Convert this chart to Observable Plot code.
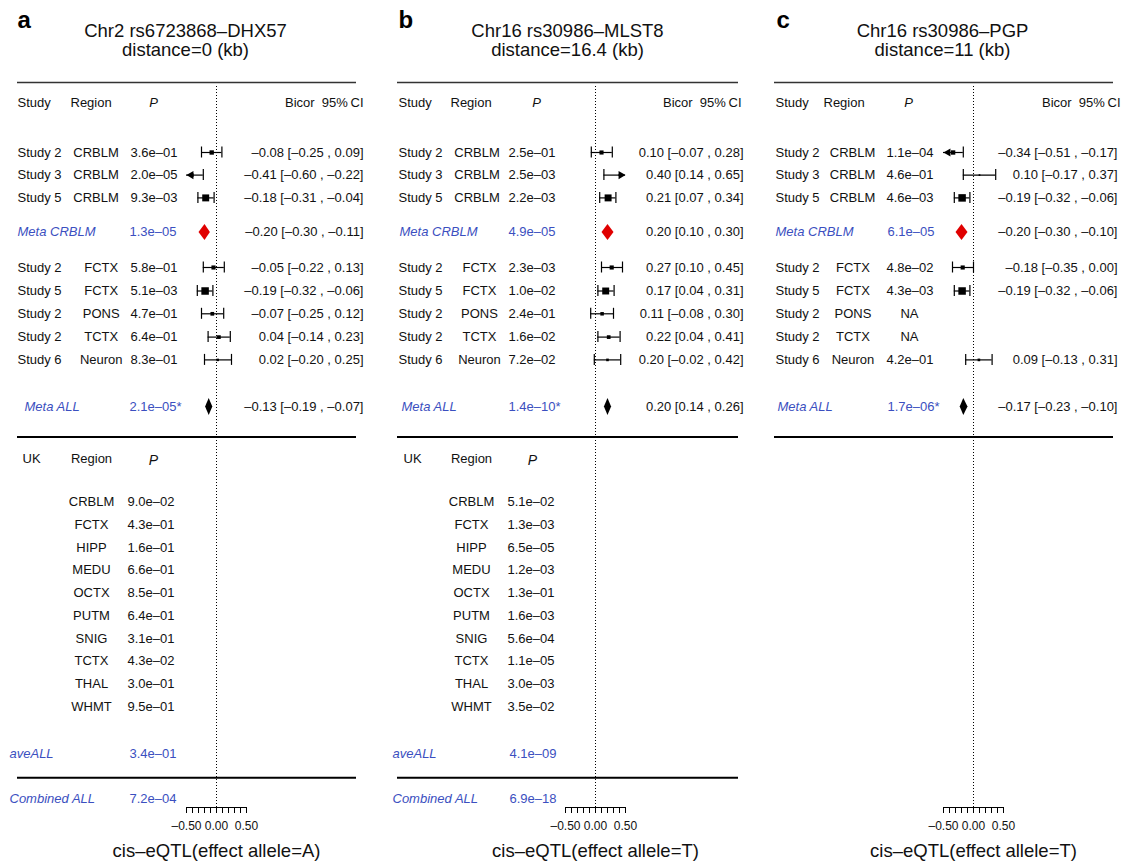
<!DOCTYPE html>
<html><head><meta charset="utf-8">
<script src="https://cdn.jsdelivr.net/npm/d3@7"></script>
<script src="https://cdn.jsdelivr.net/npm/@observablehq/plot@0.6"></script>
<style>
html,body{margin:0;padding:0;background:#fff}
body{width:1126px;height:862px;overflow:hidden;position:relative;font-family:"Liberation Sans",Arial,Helvetica,sans-serif}
.panel{position:absolute;top:0}
</style></head><body>
<div id="root"></div>
<script>
// ---------------- DATA ----------------
const panelLetters = ["a", "b", "c"];
const panelTitles = ["Chr2 rs6723868–DHX57", "Chr16 rs30986–MLST8", "Chr16 rs30986–PGP"];
const panelDistances = ["distance=0 (kb)", "distance=16.4 (kb)", "distance=11 (kb)"];
const effectAlleles = ["A", "T", "T"];

const studyNames = ["Study 2", "Study 3", "Study 5", "Study 2", "Study 5", "Study 2", "Study 2", "Study 6"];
const studyRegions = ["CRBLM", "CRBLM", "CRBLM", "FCTX", "FCTX", "PONS", "TCTX", "Neuron"];

const pA = ["3.6e–01", "2.0e–05", "9.3e–03", "5.8e–01", "5.1e–03", "4.7e–01", "6.4e–01", "8.3e–01"];
const estA = [-0.08, -0.41, -0.18, -0.05, -0.19, -0.07, 0.04, 0.02];
const loA = [-0.25, -0.60, -0.31, -0.22, -0.32, -0.25, -0.14, -0.20];
const hiA = [0.09, -0.22, -0.04, 0.13, -0.06, 0.12, 0.23, 0.25];

const pB = ["2.5e–01", "2.5e–03", "2.2e–03", "2.3e–03", "1.0e–02", "2.4e–01", "1.6e–02", "7.2e–02"];
const estB = [0.10, 0.40, 0.21, 0.27, 0.17, 0.11, 0.22, 0.20];
const loB = [-0.07, 0.14, 0.07, 0.10, 0.04, -0.08, 0.04, -0.02];
const hiB = [0.28, 0.65, 0.34, 0.45, 0.31, 0.30, 0.41, 0.42];

const pC = ["1.1e–04", "4.6e–01", "4.6e–03", "4.8e–02", "4.3e–03", "NA", "NA", "4.2e–01"];
const estC = [-0.34, 0.10, -0.19, -0.18, -0.19, null, null, 0.09];
const loC = [-0.51, -0.17, -0.32, -0.35, -0.32, null, null, -0.13];
const hiC = [-0.17, 0.37, -0.06, 0.00, -0.06, null, null, 0.31];

const metaCrblmP = ["1.3e–05", "4.9e–05", "6.1e–05"];
const metaCrblmEst = [-0.20, 0.20, -0.20];
const metaCrblmLo = [-0.30, 0.10, -0.30];
const metaCrblmHi = [-0.11, 0.30, -0.10];

const metaAllP = ["2.1e–05*", "1.4e–10*", "1.7e–06*"];
const metaAllEst = [-0.13, 0.20, -0.17];
const metaAllLo = [-0.19, 0.14, -0.23];
const metaAllHi = [-0.07, 0.26, -0.10];

const ukRegions = ["CRBLM", "FCTX", "HIPP", "MEDU", "OCTX", "PUTM", "SNIG", "TCTX", "THAL", "WHMT"];
const ukPA = ["9.0e–02", "4.3e–01", "1.6e–01", "6.6e–01", "8.5e–01", "6.4e–01", "3.1e–01", "4.3e–02", "3.0e–01", "9.5e–01"];
const ukPB = ["5.1e–02", "1.3e–03", "6.5e–05", "1.2e–03", "1.3e–01", "1.6e–03", "5.6e–04", "1.1e–05", "3.0e–03", "3.5e–02"];
const aveAllP = ["3.4e–01", "4.1e–09", null];
const combinedAllP = ["7.2e–04", "6.9e–18", null];

const axisTicks = [-0.5, -0.4, -0.3, -0.2, -0.1, 0, 0.1, 0.2, 0.3, 0.4, 0.5];
const axisLabelValues = [-0.5, 0, 0.5];
const axisLabels = ["–0.50", "0.00", "0.50"];

// ---------------- LAYOUT / STYLE ----------------
const FONT = '"Liberation Sans", Arial, Helvetica, sans-serif';
const BLUE = "#3b4fc0";
const RED = "#e00000";
const LY = {
  letterY: 20, title1Y: 31, title2Y: 50, topRuleY: 82, headerY: 102,
  studyY: [152, 174.6, 197.4, 267, 290.5, 313.3, 336.6, 359.4],
  metaCY: 231.5, metaAY: 406, midRuleY: 436.5, ukHeaderY: 458, ukHeaderPY: 460,
  ukY0: 501.6, ukStep: 22.72, aveY: 753.5, lowRuleY: 777.3, combY: 798.3,
  axisY: 807, tickLen: 6, tickLabY: 826, xlabY: 851, dotTop: 86
};
const panelLayout = [
  {left: 0, width: 379, mL: 17, mR: 23, letterX: 17, titleX: 185, hStudy: 17, hRegion: 70, hP: 153, hCI: 363,
   studyX: 17, regC: 95.5, reg: 100.7, pX: 130, naX: 152, ciX: 363, metaCX: 17, metaAX: 24, metaPX: 129,
   ukX: 22, ukHReg: 91, ukHP: 153, ukReg: 91, ukPX: 127, aveX: 9, aveP: 129, hasUK: true},
  {left: 379, width: 378, mL: 18, mR: 19, letterX: 19, titleX: 188, hStudy: 19, hRegion: 71, hP: 157, hCI: 362,
   studyX: 19, regC: 97.5, reg: 100, pX: 129, naX: 152, ciX: 364, metaCX: 20, metaAX: 22, metaPX: 129,
   ukX: 24, ukHReg: 92, ukHP: 153, ukReg: 92, ukPX: 128, aveX: 13, aveP: 130, hasUK: true},
  {left: 757, width: 369, mL: 17, mR: 13, letterX: 19, titleX: 185, hStudy: 18, hRegion: 66, hP: 151, hCI: 363,
   studyX: 18, regC: 95, reg: 95.5, pX: 129, naX: 152, ciX: 360, metaCX: 18, metaAX: 20, metaPX: 130,
   hasUK: false}
];

const pvals = [pA, pB, pC], ests = [estA, estB, estC], los = [loA, loB, loC], his = [hiA, hiB, hiC];
const ukPs = [ukPA, ukPB, null];

const fmt = v => (v < 0 ? "–" : "") + Math.abs(v).toFixed(2);
const ciText = d => `${fmt(d.est)} [${fmt(d.lo)} , ${fmt(d.hi)}]`;

function makePanel(i) {
  const lay = panelLayout[i];
  const T = (data, o) => Plot.text(data, {frameAnchor: "left", fontSize: 13, fill: "#111", ...o, dx: (o.px ?? 0) - lay.mL});

  const rows = studyNames.map((s, j) => ({
    study: s, region: studyRegions[j], p: pvals[i][j], est: ests[i][j], lo: los[i][j], hi: his[i][j],
    y: LY.studyY[j], crblm: studyRegions[j] === "CRBLM"
  }));
  const plotted = rows.filter(d => d.est != null);
  const metas = [
    {label: "Meta CRBLM", p: metaCrblmP[i], est: metaCrblmEst[i], lo: metaCrblmLo[i], hi: metaCrblmHi[i], y: LY.metaCY, color: RED, h: 8},
    {label: "Meta ALL", p: metaAllP[i], est: metaAllEst[i], lo: metaAllLo[i], hi: metaAllHi[i], y: LY.metaAY, color: "#000", h: 8.5}
  ];
  const caps = plotted.flatMap(d => [
    ...(d.lo >= -0.5 ? [{x: d.lo, y: d.y}] : []),
    ...(d.hi <= 0.5 ? [{x: d.hi, y: d.y}] : [])
  ]);
  const leftArrows = plotted.filter(d => d.lo < -0.5);
  const rightArrows = plotted.filter(d => d.hi > 0.5);
  const diamond = m => [
    {x: m.lo, y: m.y}, {x: m.est, y: m.y - m.h}, {x: m.hi, y: m.y}, {x: m.est, y: m.y + m.h}, {x: m.lo, y: m.y}
  ];

  const marks = [];
  // titles
  marks.push(T([panelLetters[i]], {text: d => d, y: () => LY.letterY, px: lay.letterX, textAnchor: "start", fontSize: 24, fontWeight: "bold", fill: "#000"}));
  marks.push(T([panelTitles[i]], {text: d => d, y: () => LY.title1Y, px: lay.titleX, textAnchor: "middle", fontSize: 18.5}));
  marks.push(T([panelDistances[i]], {text: d => d, y: () => LY.title2Y, px: lay.titleX, textAnchor: "middle", fontSize: 18.5}));

  // rules
  marks.push(Plot.ruleY([LY.topRuleY], {stroke: "#333", strokeWidth: 1.5}));
  marks.push(Plot.ruleY([LY.midRuleY], {stroke: "#000", strokeWidth: 2}));
  if (lay.hasUK) marks.push(Plot.ruleY([LY.lowRuleY], {stroke: "#000", strokeWidth: 2}));

  // dotted zero line
  marks.push(Plot.ruleX([0], {y1: LY.dotTop, y2: LY.axisY, stroke: "#000", strokeWidth: 1, strokeDasharray: "1,2"}));

  // header
  marks.push(T(["Study"], {text: d => d, y: () => LY.headerY, px: lay.hStudy, textAnchor: "start"}));
  marks.push(T(["Region"], {text: d => d, y: () => LY.headerY, px: lay.hRegion, textAnchor: "start"}));
  marks.push(T(["P"], {text: d => d, y: () => LY.headerY, px: lay.hP, textAnchor: "middle", fontStyle: "italic"}));
  marks.push(T(["Bicor\u00a0\u00a095%\u2009CI"], {text: d => d, y: () => LY.headerY, px: lay.hCI, textAnchor: "end"}));

  // study rows
  marks.push(T(rows, {text: "study", y: "y", px: lay.studyX, textAnchor: "start"}));
  marks.push(T(rows.filter(d => d.crblm), {text: "region", y: "y", px: lay.regC, textAnchor: "middle"}));
  marks.push(T(rows.filter(d => !d.crblm), {text: "region", y: "y", px: lay.reg, textAnchor: "middle"}));
  marks.push(T(rows.filter(d => d.p !== "NA"), {text: "p", y: "y", px: lay.pX, textAnchor: "start"}));
  marks.push(T(rows.filter(d => d.p === "NA"), {text: "p", y: "y", px: lay.naX, textAnchor: "middle"}));
  marks.push(T(plotted, {text: ciText, y: "y", px: lay.ciX, textAnchor: "end"}));

  // meta rows
  marks.push(T(metas.slice(0, 1), {text: "label", y: "y", px: lay.metaCX, textAnchor: "start", fill: BLUE, fontStyle: "italic"}));
  marks.push(T(metas.slice(1), {text: "label", y: "y", px: lay.metaAX, textAnchor: "start", fill: BLUE, fontStyle: "italic"}));
  marks.push(T(metas, {text: "p", y: "y", px: lay.metaPX, textAnchor: "start", fill: BLUE}));
  marks.push(T(metas, {text: ciText, y: "y", px: lay.ciX, textAnchor: "end"}));

  // forest marks
  marks.push(Plot.ruleY(plotted, {y: "y", x1: d => Math.max(d.lo, -0.5), x2: d => Math.min(d.hi, 0.5), stroke: "#000", strokeWidth: 1.2}));
  marks.push(Plot.ruleX(caps, {x: "x", y1: d => d.y - 5.5, y2: d => d.y + 5.5, stroke: "#000", strokeWidth: 1.2}));
  marks.push(Plot.dot(plotted, {x: "est", y: "y", symbol: "square", r: d => (0.507 / ((d.hi - d.lo) ** 2)) / Math.sqrt(Math.PI), fill: "#000", stroke: "none"}));
  marks.push(Plot.dot(leftArrows, {x: () => -0.5, y: "y", symbol: "triangle", r: 3, rotate: -90, dx: 4.6, fill: "#000", stroke: "none"}));
  marks.push(Plot.dot(rightArrows, {x: () => 0.5, y: "y", symbol: "triangle", r: 3, rotate: 90, dx: -4.6, fill: "#000", stroke: "none"}));
  for (const m of metas) {
    marks.push(Plot.line(diamond(m), {x: "x", y: "y", fill: m.color, stroke: "none", curve: "linear"}));
  }

  // UK section
  if (lay.hasUK) {
    const uk = ukRegions.map((r, j) => ({region: r, p: ukPs[i][j], y: LY.ukY0 + j * LY.ukStep}));
    marks.push(T(["UK"], {text: d => d, y: () => LY.ukHeaderY, px: lay.ukX, textAnchor: "start"}));
    marks.push(T(["Region"], {text: d => d, y: () => LY.ukHeaderY, px: lay.ukHReg, textAnchor: "middle"}));
    marks.push(T(["P"], {text: d => d, y: () => LY.ukHeaderPY, px: lay.ukHP, textAnchor: "middle", fontStyle: "italic", fontSize: 14}));
    marks.push(T(uk, {text: "region", y: "y", px: lay.ukReg, textAnchor: "middle"}));
    marks.push(T(uk, {text: "p", y: "y", px: lay.ukPX, textAnchor: "start"}));
    const summ = [
      {label: "aveALL", p: aveAllP[i], y: LY.aveY},
      {label: "Combined ALL", p: combinedAllP[i], y: LY.combY}
    ];
    marks.push(T(summ, {text: "label", y: "y", px: lay.aveX, textAnchor: "start", fill: BLUE, fontStyle: "italic"}));
    marks.push(T(summ, {text: "p", y: "y", px: lay.aveP, textAnchor: "start", fill: BLUE}));
  }

  // axis
  marks.push(Plot.ruleY([LY.axisY], {x1: -0.5, x2: 0.5, stroke: "#000", strokeWidth: 1}));
  marks.push(Plot.ruleX(axisTicks, {x: d => d, y1: LY.axisY, y2: LY.axisY + LY.tickLen, stroke: "#000", strokeWidth: 1}));
  const tl = axisLabelValues.map((v, j) => ({v, label: axisLabels[j]}));
  marks.push(Plot.text(tl, {x: "v", y: () => LY.tickLabY, text: "label", fontSize: 12, fill: "#111"}));
  marks.push(Plot.text([`cis–eQTL(effect allele=${effectAlleles[i]})`], {x: () => 0, y: () => LY.xlabY, text: d => d, fontSize: 18.5, fill: "#111"}));

  const svg = Plot.plot({
    width: lay.width, height: 862,
    marginLeft: lay.mL, marginRight: lay.mR, marginTop: 0, marginBottom: 0,
    x: {domain: [-0.5, 0.5], range: [186, 246], axis: null},
    y: {domain: [0, 862], range: [0, 862], axis: null},
    r: {type: "linear", domain: [0, 10], range: [0, 10]},
    style: {fontFamily: FONT, background: "transparent", overflow: "visible"},
    marks
  });
  const wrap = document.createElement("div");
  wrap.className = "panel";
  wrap.style.left = lay.left + "px";
  wrap.appendChild(svg);
  return wrap;
}

const root = document.getElementById("root");
for (let i = 0; i < 3; i++) root.appendChild(makePanel(i));
</script>
</body></html>
